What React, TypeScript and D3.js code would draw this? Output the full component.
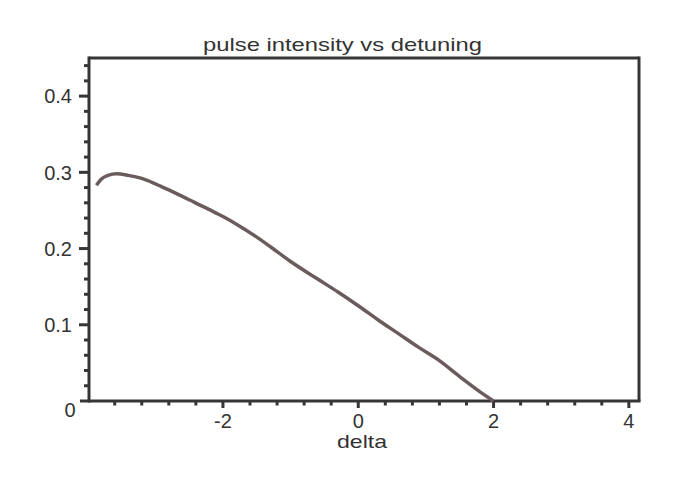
import React from "react";
import * as d3 from "d3";

const deltaValues = [-3.87, -3.8, -3.7, -3.57, -3.4, -3.2, -3.0, -2.8, -2.5, -2.2, -2.0, -1.8, -1.5, -1.2, -1.0, -0.6, -0.3, 0, 0.3, 0.6, 0.9, 1.2, 1.5, 1.8, 2.0];
const intensityValues = [0.283, 0.291, 0.296, 0.298, 0.296, 0.292, 0.285, 0.277, 0.264, 0.251, 0.242, 0.232, 0.215, 0.196, 0.183, 0.16, 0.143, 0.125, 0.106, 0.088, 0.07, 0.053, 0.032, 0.012, 0.0];
const xMajorTicks = [-2, 0, 2, 4];
const xMinorTicks = [-3.6, -3.2, -2.8, -2.4, -1.6, -1.2, -0.8, -0.4, 0.4, 0.8, 1.2, 1.6, 2.4, 2.8, 3.2, 3.6];
const yMajorTicks = [0.1, 0.2, 0.3, 0.4];
const yMinorTicks = [0.02, 0.04, 0.06, 0.08, 0.12, 0.14, 0.16, 0.18, 0.22, 0.24, 0.26, 0.28, 0.32, 0.34, 0.36, 0.38, 0.42, 0.44];
const title = "pulse intensity vs detuning";
const xLabel = "delta";

export default function App() {
  const W = 673, H = 487;
  const left = 89, right = 639, top = 58, bottom = 401;
  const x = d3.scaleLinear().domain([-3.98, 4.15]).range([left, right]);
  const y = d3.scaleLinear().domain([0, 0.45]).range([bottom, top]);
  const data = deltaValues.map((d, i) => [d, intensityValues[i]] as [number, number]);
  const line = d3.line<[number, number]>().x(d => x(d[0])).y(d => y(d[1])).curve(d3.curveMonotoneX);
  const axisColor = "#363636";
  const textColor = "#333";
  const font = "Liberation Sans, Arial, sans-serif";
  const fmt = (v: number) => (v === 0 ? "0" : String(+v.toFixed(1)));
  return (
    <svg width={W} height={H} style={{ position: "absolute", left: 0, top: 0, background: "#fff" }}>
      <rect width={W} height={H} fill="#fff" />
      {/* frame top & right */}
      <line x1={left} x2={right} y1={top} y2={top} stroke={axisColor} strokeWidth={3} />
      <line x1={right} x2={right} y1={top - 1.5} y2={bottom} stroke={axisColor} strokeWidth={3} />
      {/* axes */}
      <line x1={left} x2={left} y1={top - 1.5} y2={bottom + 1.5} stroke={axisColor} strokeWidth={3} />
      <line x1={left - 9} x2={right + 1.5} y1={bottom} y2={bottom} stroke={axisColor} strokeWidth={3} />
      {/* y ticks */}
      {yMajorTicks.map(t => (
        <line key={"ym" + t} x1={left - 10} x2={left} y1={y(t)} y2={y(t)} stroke={axisColor} strokeWidth={3} />
      ))}
      {yMinorTicks.map(t => (
        <line key={"yn" + t} x1={left - 5} x2={left} y1={y(t)} y2={y(t)} stroke={axisColor} strokeWidth={3} />
      ))}
      {/* x ticks */}
      {xMajorTicks.map(t => (
        <line key={"xm" + t} x1={x(t)} x2={x(t)} y1={bottom} y2={bottom + 7} stroke={axisColor} strokeWidth={3} />
      ))}
      {xMinorTicks.map(t => (
        <line key={"xn" + t} x1={x(t)} x2={x(t)} y1={bottom} y2={bottom + 4.5} stroke={axisColor} strokeWidth={3} />
      ))}
      {/* y labels */}
      {yMajorTicks.map(t => (
        <text key={"yl" + t} x={left - 17} y={y(t)} dy="0.36em" textAnchor="end" fontFamily={font} fontSize={20} fill={textColor}>
          {fmt(t)}
        </text>
      ))}
      <text x={70} y={417} textAnchor="middle" fontFamily={font} fontSize={20} fill={textColor}>0</text>
      {/* x labels */}
      {xMajorTicks.map(t => (
        <text key={"xl" + t} x={x(t)} y={428} textAnchor="middle" fontFamily={font} fontSize={20} fill={textColor}>
          {t < 0 ? "-" + Math.abs(t) : String(t)}
        </text>
      ))}
      <text x={337} y={448} textLength={50} lengthAdjust="spacingAndGlyphs" fontFamily={font} fontSize={19} fill={textColor}>{xLabel}</text>
      <text x={203} y={51} textLength={279} lengthAdjust="spacingAndGlyphs" fontFamily={font} fontSize={19} fill={textColor}>{title}</text>
      {/* curve */}
      <path d={line(data) || ""} fill="none" stroke="#6a5c5c" strokeWidth={3.5} strokeLinejoin="round" />
    </svg>
  );
}
